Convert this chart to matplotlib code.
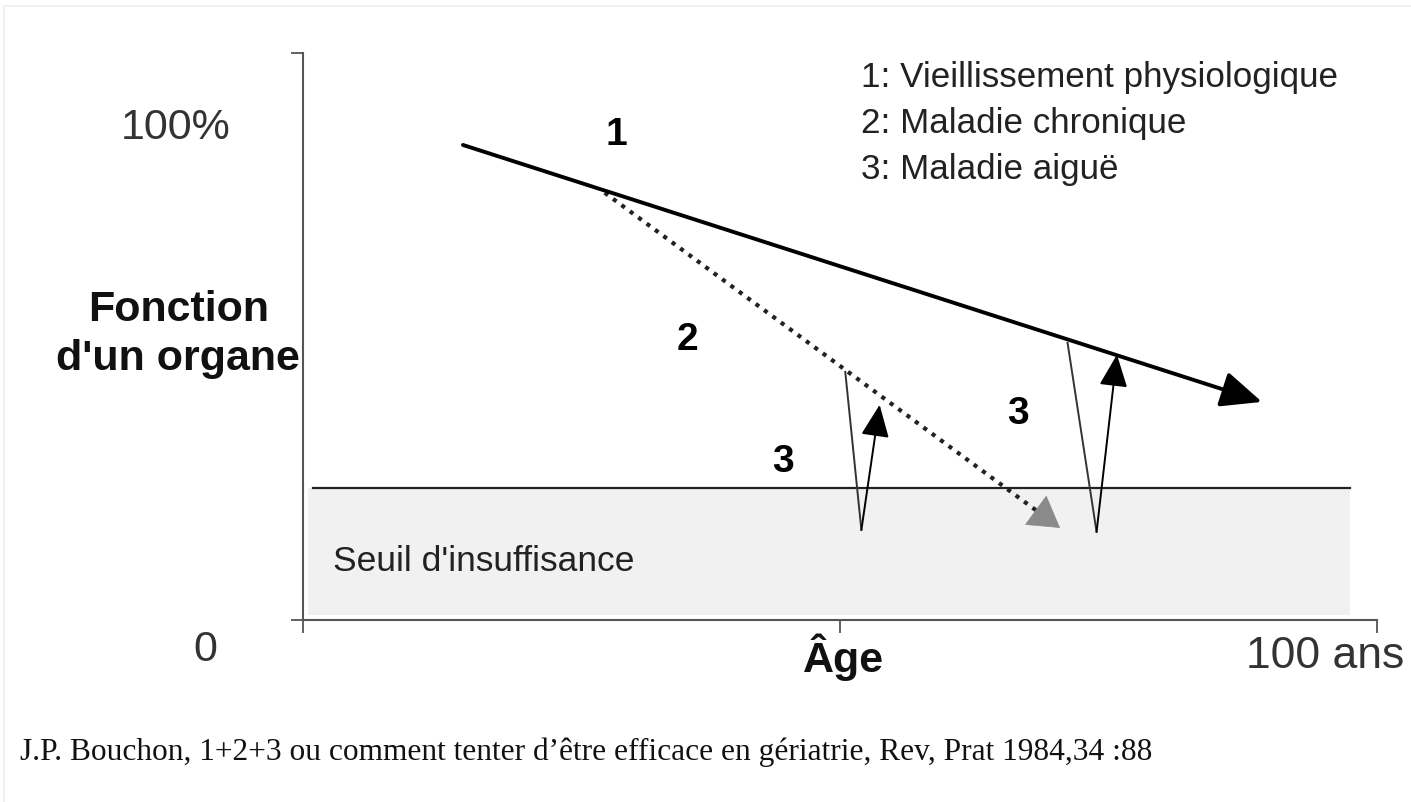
import matplotlib
matplotlib.use("Agg")
import matplotlib.pyplot as plt
from matplotlib.patches import Rectangle

plt.rcParams['font.family'] = ['Liberation Sans', 'DejaVu Sans']

# age (0-100 ans) vs fonction d'un organe (%)
vieillissement_x = [14.9, 89.3]
vieillissement_y = [96.5, 44.3]
chronique_x = [28.1, 70.5]
chronique_y = [86.8, 18.7]
# acute episodes: start on a curve, dip below threshold, recover
aigue1_x = [50.5, 52.0, 53.7]
aigue1_y = [50.4, 18.3, 43.7]
aigue2_x = [71.2, 73.9, 75.8]
aigue2_y = [56.3, 17.9, 53.9]
seuil = 26.8
seuil_x = [0.9, 97.5]

legend_lines = ["1: Vieillissement physiologique",
                "2: Maladie chronique",
                "3: Maladie aiguë"]
citation = ("J.P. Bouchon, 1+2+3 ou comment tenter d\u2019être efficace en gériatrie, "
            "Rev, Prat 1984,34 :88")

fig = plt.figure(figsize=(14.11, 8.02), dpi=100)
ax = fig.add_axes([0.2147, 0.227, 0.7611, 0.707])
ax.set_xlim(0, 100)
ax.set_ylim(0, 115.2)

for s in ['top', 'right']:
    ax.spines[s].set_visible(False)
for s in ['left', 'bottom']:
    ax.spines[s].set_color('#555555')
    ax.spines[s].set_linewidth(1.5)
ax.set_xticks([0, 50, 100])
ax.set_yticks([0, 115.2])
ax.set_xticklabels([])
ax.set_yticklabels([])
ax.tick_params(length=9, width=1.3, color='#555555')

# zone below the threshold
ax.add_patch(Rectangle((0.5, 1.0), 97.0, seuil - 1.0, facecolor='#f1f1f1',
                       edgecolor='none', zorder=0))
ax.plot(seuil_x, [seuil, seuil], color='#222222', lw=1.6, zorder=2)

# 1: physiological ageing
ax.annotate('', xy=(vieillissement_x[1], vieillissement_y[1]),
            xytext=(vieillissement_x[0], vieillissement_y[0]),
            arrowprops=dict(arrowstyle='-|>,head_length=0.5,head_width=0.22',
                            color='black', lw=2.8,
                            mutation_scale=50, shrinkA=0, shrinkB=0), zorder=4)

# 2: chronic disease (dotted, grey head)
ax.plot(chronique_x[:1] + [chronique_x[1] - 2.0],
        chronique_y[:1] + [chronique_y[1] + 3.2],
        color='#222222', lw=3.0, linestyle=(0, (1, 1.5)), zorder=3)
ax.annotate('', xy=(chronique_x[1], chronique_y[1]),
            xytext=(chronique_x[1] - 2.2, chronique_y[1] + 3.5),
            arrowprops=dict(arrowstyle='-|>,head_length=0.5,head_width=0.3',
                            color='#8a8a8a', lw=0.5,
                            mutation_scale=42, shrinkA=0, shrinkB=0), zorder=3)

# 3: acute episodes
for xs, ys in [(aigue1_x, aigue1_y), (aigue2_x, aigue2_y)]:
    ax.plot(xs[:2], ys[:2], color='#333333', lw=1.4, zorder=3)
    ax.annotate('', xy=(xs[2], ys[2]), xytext=(xs[1], ys[1]),
                arrowprops=dict(arrowstyle='-|>,head_length=0.5,head_width=0.22',
                                color='black', lw=1.4,
                                mutation_scale=40, shrinkA=0, shrinkB=0), zorder=3)

# labels in the plot
num_kw = dict(fontsize=28, fontweight='bold', ha='center', va='center')
ax.text(29.2, 98.6, '1', **num_kw)
ax.text(35.8, 56.9, '2', **num_kw)
ax.text(44.7, 32.1, '3', **num_kw)
ax.text(66.6, 41.9, '3', **num_kw)
ax.text(2.8, 11.8, "Seuil d'insuffisance", fontsize=25.5, ha='left', va='center',
        color='#222222')

for i, line in enumerate(legend_lines):
    ax.text(52.0, 110.2 - i * 9.3, line, fontsize=25.2, ha='left', va='center',
            color='#222222')

# axis annotations
ax.text(-11.9, 100, '100%', fontsize=31, ha='center', va='center',
        color='#333333', clip_on=False)
ax.text(-11.6, 58, "Fonction\nd'un organe", fontsize=31, fontweight='bold',
        ha='center', va='center', linespacing=1.3, color='#111111', clip_on=False)
ax.text(-9.1, -6.1, '0', fontsize=31, ha='center', va='center',
        color='#333333', clip_on=False)
ax.text(50.3, -7.5, 'Âge', fontsize=31, fontweight='bold', ha='center',
        va='center', color='#111111', clip_on=False)
ax.text(95.2, -7.5, '100 ans', fontsize=32, ha='center', va='center',
        color='#333333', clip_on=False)

fig.text(0.014, 0.062, citation, fontsize=22.6, family=['Liberation Serif', 'DejaVu Serif'],
         ha='left', va='center', color='#111111')

fig.patches.append(Rectangle((0.003, -0.01), 1.0, 1.0025, fill=False,
                             edgecolor='#eeeeee', lw=1.2, transform=fig.transFigure,
                             figure=fig))

fig.savefig('out.png', dpi=100)
